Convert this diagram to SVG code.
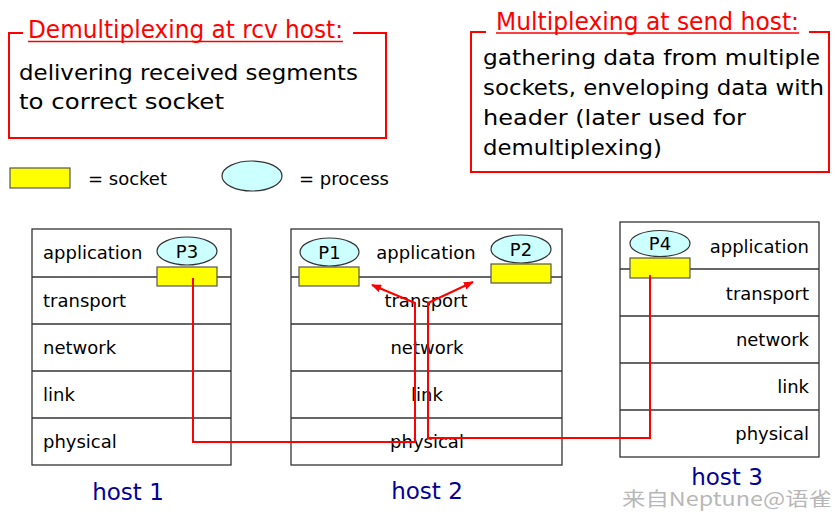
<svg xmlns="http://www.w3.org/2000/svg" width="840" height="518" viewBox="0 0 840 518">
<style>
.box{fill:none;stroke:#ff0000;stroke-width:2}
.title{font-family:"DejaVu Sans",sans-serif;font-size:24px;fill:#ff0000}
.ul{stroke:#ff0000;stroke-width:1.5}
.body{font-family:"DejaVu Sans",sans-serif;font-size:22px;fill:#000}
.lbl{font-family:"DejaVu Sans",sans-serif;font-size:18px;fill:#000}
.host{fill:#fff;stroke:#333;stroke-width:1.3}
.div{stroke:#333;stroke-width:1.3}
.hname{font-family:"DejaVu Sans",sans-serif;font-size:23px;fill:#000099}
.sock{fill:#ffff00;stroke:#555;stroke-width:1.2}
.proc{fill:#ccffff;stroke:#333;stroke-width:1.2}
.conn{fill:none;stroke:#ff0000;stroke-width:2}
.wm{font-family:"Noto Sans CJK SC","DejaVu Sans",sans-serif;font-size:19px;fill:#aaa;fill-opacity:0.85}
</style>
<defs>
<marker id="ah" markerWidth="10" markerHeight="8" refX="9" refY="4" orient="auto" markerUnits="userSpaceOnUse">
<path d="M0,0 L10,4 L0,8 Z" fill="#ff0000"/>
</marker>
</defs>
<rect width="840" height="518" fill="#fff"/>

<g id="demux-note">
<path class="box" d="M23,33 H9 V138 H386 V33 H353"/>
<text class="title" x="28" y="38" textLength="315" lengthAdjust="spacingAndGlyphs">Demultiplexing at rcv host:</text>
<line class="ul" x1="28" y1="41.5" x2="343" y2="41.5"/>
<text class="body" x="19" y="80" textLength="339" lengthAdjust="spacingAndGlyphs">delivering received segments</text>
<text class="body" x="19" y="109" textLength="205" lengthAdjust="spacingAndGlyphs">to correct socket</text>
</g>

<g id="mux-note">
<path class="box" d="M486,32 H471 V172 H829 V32 H809"/>
<text class="title" x="496" y="30" textLength="303" lengthAdjust="spacingAndGlyphs">Multiplexing at send host:</text>
<line class="ul" x1="496" y1="33" x2="799" y2="33"/>
<text class="body" x="483" y="65" textLength="337" lengthAdjust="spacingAndGlyphs">gathering data from multiple</text>
<text class="body" x="483" y="95" textLength="341" lengthAdjust="spacingAndGlyphs">sockets, enveloping data with</text>
<text class="body" x="483" y="125" textLength="263" lengthAdjust="spacingAndGlyphs">header (later used for</text>
<text class="body" x="483" y="155" textLength="179" lengthAdjust="spacingAndGlyphs">demultiplexing)</text>
</g>

<g id="legend">
<rect class="sock" x="10" y="168" width="60" height="20"/>
<text class="lbl" x="88" y="185">= socket</text>
<ellipse class="proc" cx="252" cy="176" rx="30" ry="15"/>
<text class="lbl" x="299" y="185">= process</text>
</g>

<g id="host1">
<rect class="host" x="32" y="229" width="199" height="236"/>
<line class="div" x1="32" y1="277" x2="231" y2="277"/>
<line class="div" x1="32" y1="324" x2="231" y2="324"/>
<line class="div" x1="32" y1="371" x2="231" y2="371"/>
<line class="div" x1="32" y1="418" x2="231" y2="418"/>
<text class="lbl" x="43" y="259">application</text>
<text class="lbl" x="43" y="307">transport</text>
<text class="lbl" x="43" y="354">network</text>
<text class="lbl" x="43" y="401">link</text>
<text class="lbl" x="43" y="448">physical</text>
<text class="hname" x="128" y="500" text-anchor="middle">host 1</text>
</g>

<g id="host2">
<rect class="host" x="291" y="229" width="271" height="236"/>
<line class="div" x1="291" y1="277" x2="562" y2="277"/>
<line class="div" x1="291" y1="324" x2="562" y2="324"/>
<line class="div" x1="291" y1="371" x2="562" y2="371"/>
<line class="div" x1="291" y1="418" x2="562" y2="418"/>
<text class="lbl" x="426" y="259" text-anchor="middle">application</text>
<text class="lbl" x="426" y="307" text-anchor="middle">transport</text>
<text class="lbl" x="427" y="354" text-anchor="middle">network</text>
<text class="lbl" x="427" y="401" text-anchor="middle">link</text>
<text class="lbl" x="427" y="448" text-anchor="middle">physical</text>
<text class="hname" x="427" y="499" text-anchor="middle">host 2</text>
</g>

<g id="host3">
<rect class="host" x="620" y="222" width="199" height="235"/>
<line class="div" x1="620" y1="269" x2="819" y2="269"/>
<line class="div" x1="620" y1="316" x2="819" y2="316"/>
<line class="div" x1="620" y1="363" x2="819" y2="363"/>
<line class="div" x1="620" y1="410" x2="819" y2="410"/>
<text class="lbl" x="809" y="253" text-anchor="end">application</text>
<text class="lbl" x="809" y="300" text-anchor="end">transport</text>
<text class="lbl" x="809" y="346" text-anchor="end">network</text>
<text class="lbl" x="809" y="393" text-anchor="end">link</text>
<text class="lbl" x="809" y="440" text-anchor="end">physical</text>
<text class="hname" x="727" y="485" text-anchor="middle">host 3</text>
</g>

<g id="P3">
<ellipse class="proc" cx="187" cy="251" rx="30" ry="14"/>
<text class="lbl" x="187" y="257.5" text-anchor="middle">P3</text>
<rect class="sock" x="157" y="267" width="60" height="19"/>
</g>
<g id="P1">
<ellipse class="proc" cx="329.5" cy="252" rx="29.5" ry="14"/>
<text class="lbl" x="329.5" y="258.5" text-anchor="middle">P1</text>
<rect class="sock" x="299" y="267" width="60" height="19"/>
</g>
<g id="P2">
<ellipse class="proc" cx="521" cy="249" rx="30" ry="14"/>
<text class="lbl" x="521" y="255.5" text-anchor="middle">P2</text>
<rect class="sock" x="491" y="264" width="60" height="19"/>
</g>
<g id="P4">
<ellipse class="proc" cx="660" cy="243.5" rx="30" ry="13"/>
<text class="lbl" x="660" y="250" text-anchor="middle">P4</text>
<rect class="sock" x="630" y="258" width="60" height="20"/>
</g>

<g id="connectors">
<path class="conn" d="M193,278 V442 H415 V303 L372,285" marker-end="url(#ah)"/>
<path class="conn" d="M650,275 V438 H428 V303 L473,282" marker-end="url(#ah)"/>
</g>

<text class="wm" x="622" y="506" textLength="210" lengthAdjust="spacingAndGlyphs">来自Neptune@语雀</text>
</svg>
